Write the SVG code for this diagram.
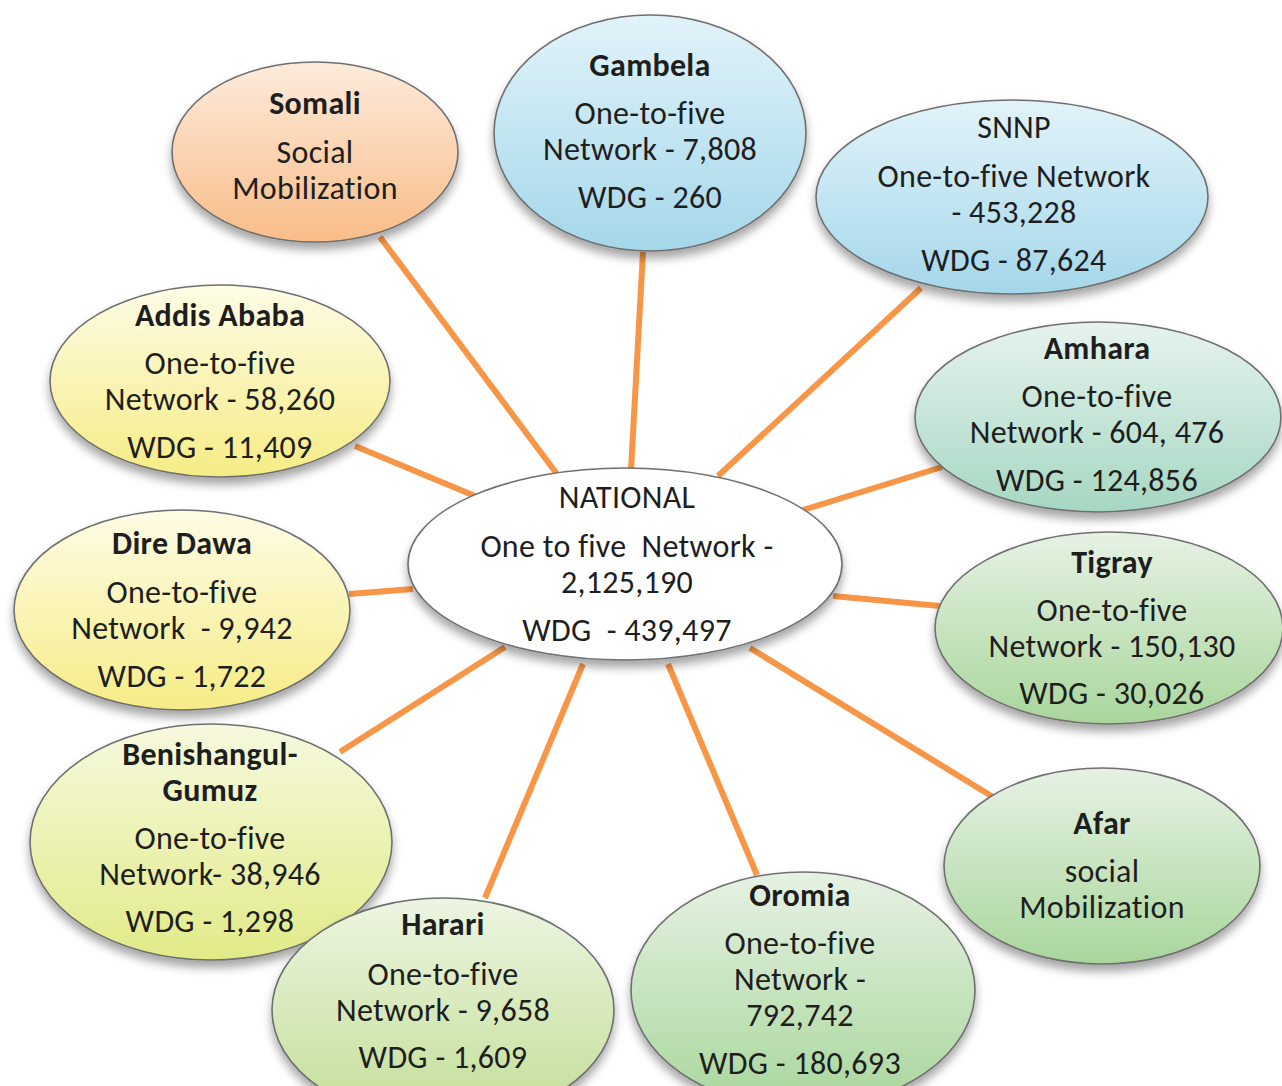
<svg xmlns="http://www.w3.org/2000/svg" width="1282" height="1086" viewBox="0 0 1282 1086">
<defs>
<style>
.n{stroke:#6f6f6f;stroke-width:1.6;filter:url(#sh)}
.t{font-family:Carlito,Calibri,"Liberation Sans",Arial,sans-serif;font-size:32px;letter-spacing:0.3px;fill:#1e1e1e;text-anchor:middle;font-variant-ligatures:none}
.b{font-weight:bold}
.c line{stroke:#F79646;stroke-width:6;stroke-linecap:butt}
</style>
<filter id="sh" x="-20%" y="-20%" width="140%" height="150%">
<feDropShadow dx="0" dy="7" stdDeviation="5" flood-color="#000" flood-opacity="0.35"/>
</filter>
<linearGradient id="gOr" x1="0" y1="0" x2="0" y2="1"><stop offset="0" stop-color="#FDEBDC"/><stop offset="1" stop-color="#F9BD88"/></linearGradient>
<linearGradient id="gBl" x1="0" y1="0" x2="0" y2="1"><stop offset="0" stop-color="#E2F3FA"/><stop offset="1" stop-color="#A4D7EA"/></linearGradient>
<linearGradient id="gAq" x1="0" y1="0" x2="0" y2="1"><stop offset="0" stop-color="#E6F3EE"/><stop offset="1" stop-color="#A6D7C2"/></linearGradient>
<linearGradient id="gGr" x1="0" y1="0" x2="0" y2="1"><stop offset="0" stop-color="#E6F2E4"/><stop offset="1" stop-color="#A9D69C"/></linearGradient>
<linearGradient id="gLg" x1="0" y1="0" x2="0" y2="1"><stop offset="0" stop-color="#EDF5E2"/><stop offset="1" stop-color="#C2DE96"/></linearGradient>
<linearGradient id="gYg" x1="0" y1="0" x2="0" y2="1"><stop offset="0" stop-color="#F6F9DE"/><stop offset="1" stop-color="#E2EA88"/></linearGradient>
<linearGradient id="gYe" x1="0" y1="0" x2="0" y2="1"><stop offset="0" stop-color="#FEFCE6"/><stop offset="1" stop-color="#F6EC86"/></linearGradient>
</defs>
<rect width="1282" height="1086" fill="#fff"/>
<g id="connectors" class="c">
<line x1="380" y1="237" x2="557" y2="474"/>
<line x1="643" y1="252" x2="631" y2="470"/>
<line x1="921" y1="288" x2="718" y2="476"/>
<line x1="942" y1="467" x2="803" y2="510"/>
<line x1="355" y1="446" x2="475" y2="496"/>
<line x1="349" y1="594" x2="413" y2="589"/>
<line x1="833" y1="596" x2="940" y2="606"/>
<line x1="750" y1="648" x2="993" y2="797"/>
<line x1="340" y1="752" x2="505" y2="647"/>
<line x1="485" y1="898" x2="583" y2="664"/>
<line x1="757" y1="875" x2="668" y2="664"/>
</g>
<g id="somali">
<ellipse class="n" cx="315" cy="152" rx="143" ry="90" fill="url(#gOr)"/>
<text class="t b" x="315" y="114">Somali</text>
<text class="t" x="315" y="163">Social</text>
<text class="t" x="315" y="199">Mobilization</text>
</g>
<g id="gambela">
<ellipse class="n" cx="650" cy="133" rx="156" ry="118" fill="url(#gBl)"/>
<text class="t b" x="650" y="76">Gambela</text>
<text class="t" x="650" y="124">One-to-five</text>
<text class="t" x="650" y="160">Network - 7,808</text>
<text class="t" x="650" y="208">WDG - 260</text>
</g>
<g id="snnp">
<ellipse class="n" cx="1012" cy="197" rx="196" ry="97" fill="url(#gBl)"/>
<text class="t" x="1014" y="138">SNNP</text>
<text class="t" x="1014" y="187">One-to-five Network</text>
<text class="t" x="1014" y="223">- 453,228</text>
<text class="t" x="1014" y="271">WDG - 87,624</text>
</g>
<g id="amhara">
<ellipse class="n" cx="1098" cy="417" rx="183" ry="95" fill="url(#gAq)"/>
<text class="t b" x="1097" y="359">Amhara</text>
<text class="t" x="1097" y="407">One-to-five</text>
<text class="t" x="1097" y="443">Network - 604, 476</text>
<text class="t" x="1097" y="491">WDG - 124,856</text>
</g>
<g id="addis-ababa">
<ellipse class="n" cx="220" cy="381" rx="170" ry="96" fill="url(#gYe)"/>
<text class="t b" x="220" y="326">Addis Ababa</text>
<text class="t" x="220" y="374">One-to-five</text>
<text class="t" x="220" y="410">Network - 58,260</text>
<text class="t" x="220" y="458">WDG - 11,409</text>
</g>
<g id="dire-dawa">
<ellipse class="n" cx="182" cy="610" rx="168" ry="100" fill="url(#gYe)"/>
<text class="t b" x="182" y="554">Dire Dawa</text>
<text class="t" x="182" y="603">One-to-five</text>
<text class="t" x="182" y="639" xml:space="preserve">Network  - 9,942</text>
<text class="t" x="182" y="687">WDG - 1,722</text>
</g>
<g id="tigray">
<ellipse class="n" cx="1109" cy="628" rx="174" ry="96" fill="url(#gGr)"/>
<text class="t b" x="1112" y="573">Tigray</text>
<text class="t" x="1112" y="621">One-to-five</text>
<text class="t" x="1112" y="657">Network - 150,130</text>
<text class="t" x="1112" y="704">WDG - 30,026</text>
</g>
<g id="afar">
<ellipse class="n" cx="1102" cy="866" rx="158" ry="98" fill="url(#gGr)"/>
<text class="t b" x="1102" y="834">Afar</text>
<text class="t" x="1102" y="882">social</text>
<text class="t" x="1102" y="918">Mobilization</text>
</g>
<g id="benishangul-gumuz">
<ellipse class="n" cx="211" cy="842" rx="181" ry="118" fill="url(#gYg)"/>
<text class="t b" x="210" y="765">Benishangul-</text>
<text class="t b" x="210" y="801">Gumuz</text>
<text class="t" x="210" y="849">One-to-five</text>
<text class="t" x="210" y="885">Network- 38,946</text>
<text class="t" x="210" y="932">WDG - 1,298</text>
</g>
<g id="harari">
<ellipse class="n" cx="443" cy="1010" rx="171" ry="112" fill="url(#gLg)"/>
<text class="t b" x="443" y="935">Harari</text>
<text class="t" x="443" y="985">One-to-five</text>
<text class="t" x="443" y="1021">Network - 9,658</text>
<text class="t" x="443" y="1068">WDG - 1,609</text>
</g>
<g id="oromia">
<ellipse class="n" cx="803" cy="990" rx="172" ry="118" fill="url(#gGr)"/>
<text class="t b" x="800" y="906">Oromia</text>
<text class="t" x="800" y="954">One-to-five</text>
<text class="t" x="800" y="990">Network -</text>
<text class="t" x="800" y="1026">792,742</text>
<text class="t" x="800" y="1074">WDG - 180,693</text>
</g>
<g id="national">
<ellipse class="n" cx="625" cy="564" rx="217" ry="96" fill="#fff"/>
<text class="t" x="627" y="508">NATIONAL</text>
<text class="t" x="627" y="557" xml:space="preserve">One to five  Network -</text>
<text class="t" x="627" y="593">2,125,190</text>
<text class="t" x="627" y="641" xml:space="preserve">WDG  - 439,497</text>
</g>
</svg>
